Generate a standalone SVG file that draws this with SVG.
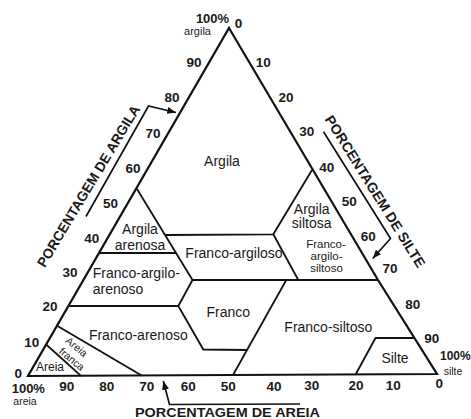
<svg xmlns="http://www.w3.org/2000/svg" width="471" height="419" viewBox="0 0 471 419">
<style>
.edge{fill:none;stroke:#111;stroke-width:2.2;stroke-linejoin:miter}
.ln{fill:none;stroke:#111;stroke-width:1.8;stroke-linejoin:miter}
.br{fill:none;stroke:#111;stroke-width:1.7;stroke-linejoin:miter}
text{font-family:"Liberation Sans",Arial,Helvetica,sans-serif;fill:#1a1a1a}
.tk{font-weight:bold;font-size:13.5px;text-anchor:middle}
.rg{font-size:14px;text-anchor:middle}
.sm{font-size:11px;text-anchor:middle}
.ax{font-weight:bold;font-size:14px;text-anchor:middle}
</style>
<defs>
<marker id="ah" viewBox="0 0 10 8" refX="10" refY="4" markerWidth="9" markerHeight="7" markerUnits="userSpaceOnUse" orient="auto">
<path d="M0,0 L10,4 L0,8 z" fill="#111"/>
</marker>
</defs>
<rect width="471" height="419" fill="#fff"/>
<g id="triangle">
<path class="edge" d="M229,28 L378,280 L437,374 L28,376 Z"/>
</g>
<g id="boundaries">
<path class="ln" d="M137,189 L192.5,280"/>
<path class="ln" d="M165,235 L273.3,234.3 L312,170"/>
<path class="ln" d="M273.3,234.3 L298.3,280"/>
<path class="ln" d="M99,253 L176,253"/>
<path class="ln" d="M192.5,280 L378,280"/>
<path class="ln" d="M192.5,280 L178.3,306 L203.3,349.5 L247,350"/>
<path class="ln" d="M68.5,306 L178.3,306"/>
<path class="ln" d="M286,280.5 L233,375"/>
<path class="ln" d="M57.5,326 L141.7,375.5"/>
<path class="ln" d="M46.7,345 L81,375.8"/>
<path class="ln" d="M356,373.7 L375.5,338 L414,338"/>
</g>
<g id="axis-arrows">
<path class="br" d="M86,216.5 L148.5,106 L176,112.5" marker-end="url(#ah)"/>
<path class="br" d="M323.5,131.7 L390.5,238.5 L372.7,258.5" marker-end="url(#ah)"/>
<path class="br" d="M300,404 L169.5,404.5 L163.3,381" marker-end="url(#ah)"/>
</g>
<g id="clay-ticks">
<text class="tk" x="212.5" y="22.8" style="font-size:13px">100%</text>
<text class="sm" x="197.5" y="34.5">argila</text>
<text class="tk" x="194" y="66.8">90</text>
<text class="tk" x="172" y="101.8">80</text>
<text class="tk" x="153" y="137.8">70</text>
<text class="tk" x="133" y="172.8">60</text>
<text class="tk" x="110.5" y="208">50</text>
<text class="tk" x="91.7" y="242.8">40</text>
<text class="tk" x="70" y="276.5">30</text>
<text class="tk" x="50" y="310.8">20</text>
<text class="tk" x="31.7" y="346.5">10</text>
<text class="tk" x="18.3" y="378">0</text>
</g>
<g id="silt-ticks">
<text class="tk" x="238.5" y="28.3">0</text>
<text class="tk" x="263.3" y="66.5">10</text>
<text class="tk" x="286" y="101.5">20</text>
<text class="tk" x="306.7" y="135.8">30</text>
<text class="tk" x="326.7" y="171.5">40</text>
<text class="tk" x="349.3" y="205.5">50</text>
<text class="tk" x="368.3" y="240.8">60</text>
<text class="tk" x="390" y="273">70</text>
<text class="tk" x="412.7" y="308.8">80</text>
<text class="tk" x="431.7" y="343">90</text>
<text class="tk" x="440" y="359.8" style="text-anchor:start;font-size:12px">100%</text>
<text class="sm" x="453" y="374.5" style="font-size:10.5px">silte</text>
</g>
<g id="sand-ticks">
<text class="tk" x="28.3" y="392.8" style="font-size:13px">100%</text>
<text class="sm" x="25" y="405" style="font-size:10.5px">areia</text>
<text class="tk" x="66.7" y="391.3">90</text>
<text class="tk" x="106.7" y="391.3">80</text>
<text class="tk" x="146.7" y="391.3">70</text>
<text class="tk" x="188.3" y="391.3">60</text>
<text class="tk" x="228.3" y="391.3">50</text>
<text class="tk" x="274" y="390.5">40</text>
<text class="tk" x="311.7" y="390">30</text>
<text class="tk" x="356" y="390">20</text>
<text class="tk" x="393.3" y="390">10</text>
<text class="tk" x="439.3" y="388">0</text>
</g>
<g id="axis-titles">
<text class="ax" transform="translate(92.6,188.6) rotate(-59)" textLength="186" lengthAdjust="spacingAndGlyphs">PORCENTAGEM DE ARGILA</text>
<text class="ax" transform="translate(371,194) rotate(58)" textLength="176" lengthAdjust="spacingAndGlyphs">PORCENTAGEM DE SILTE</text>
<text class="ax" x="227.5" y="416.5" style="font-size:13px" textLength="185" lengthAdjust="spacingAndGlyphs">PORCENTAGEM DE AREIA</text>
</g>
<g id="classes">
<g id="argila"><text class="rg" x="222" y="166">Argila</text></g>
<g id="argila-arenosa"><text class="rg" x="140" y="234">Argila</text><text class="rg" x="140" y="250">arenosa</text></g>
<g id="argila-siltosa"><text class="rg" x="311.7" y="213.5">Argila</text><text class="rg" x="311.7" y="228">siltosa</text></g>
<g id="franco-argiloso"><text class="rg" x="234" y="258">Franco-argiloso</text></g>
<g id="franco-argilo-arenoso"><text class="rg" x="92.7" y="277.5" style="text-anchor:start">Franco-argilo-</text><text class="rg" x="92.7" y="294" style="text-anchor:start">arenoso</text></g>
<g id="franco-argilo-siltoso"><text class="rg" x="326" y="248" style="font-size:11.5px">Franco-</text><text class="rg" x="326.5" y="259.5" style="font-size:11.5px">argilo-</text><text class="rg" x="326.5" y="271.5" style="font-size:11.5px">siltoso</text></g>
<g id="franco"><text class="rg" x="228.3" y="316.5">Franco</text></g>
<g id="franco-arenoso"><text class="rg" x="138.3" y="340">Franco-arenoso</text></g>
<g id="franco-siltoso"><text class="rg" x="328.3" y="331.5">Franco-siltoso</text></g>
<g id="silte"><text class="rg" x="395" y="363">Silte</text></g>
<g id="areia"><text class="rg" x="50" y="370.5" style="font-size:12px">Areia</text></g>
<g id="areia-franca" transform="translate(76.7,346.7) rotate(40)"><text class="rg" x="0" y="3.8" style="font-size:10.5px">Areia</text><text class="rg" x="4.3" y="16.3" style="font-size:10.5px">franca</text></g>
</g>
</svg>
